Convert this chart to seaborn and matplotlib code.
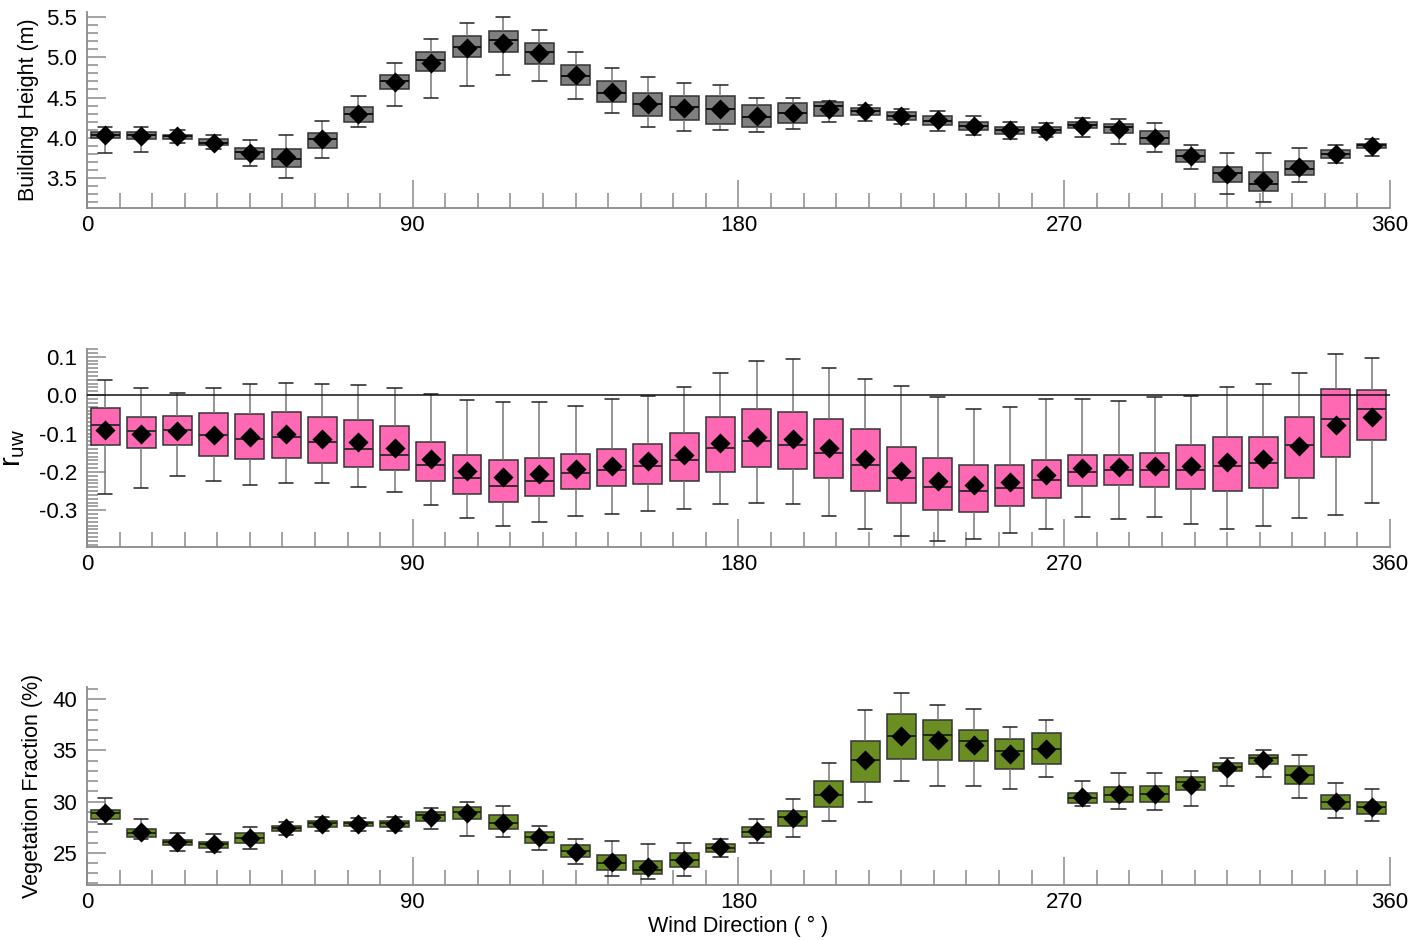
import numpy as np
import pandas as pd
import matplotlib
matplotlib.use("Agg")
import matplotlib.pyplot as plt
import seaborn as sns
from matplotlib.ticker import MultipleLocator, FormatStrFormatter

# Wind-direction bins (bin centres, degrees)
directions = list(range(5, 360, 10))

# Building height (m): whisker low, Q1, median, Q3, whisker high, mean
height_lo = [3.81, 3.82, 3.93, 3.86, 3.65, 3.50, 3.75, 4.13, 4.39, 4.49, 4.64, 4.78, 4.70, 4.48, 4.31, 4.14, 4.08, 4.10,
             4.07, 4.11, 4.20, 4.21, 4.17, 4.09, 4.04, 3.99, 4.01, 4.01, 3.92, 3.83, 3.62, 3.31, 3.20, 3.45, 3.69, 3.78]
height_q1 = [4.00, 3.99, 3.99, 3.91, 3.74, 3.64, 3.88, 4.20, 4.61, 4.83, 5.00, 5.06, 4.91, 4.65, 4.44, 4.27, 4.22, 4.17,
             4.13, 4.19, 4.27, 4.28, 4.22, 4.16, 4.10, 4.05, 4.06, 4.12, 4.06, 3.92, 3.70, 3.45, 3.34, 3.54, 3.75, 3.88]
height_med = [4.04, 4.04, 4.02, 3.94, 3.82, 3.74, 3.99, 4.29, 4.71, 4.97, 5.13, 5.21, 5.06, 4.77, 4.56, 4.42, 4.38, 4.36,
              4.26, 4.31, 4.39, 4.33, 4.27, 4.21, 4.15, 4.10, 4.10, 4.16, 4.13, 4.00, 3.78, 3.56, 3.43, 3.62, 3.80, 3.91]
height_q3 = [4.07, 4.07, 4.04, 3.98, 3.87, 3.86, 4.06, 4.38, 4.78, 5.06, 5.26, 5.32, 5.18, 4.90, 4.71, 4.56, 4.52, 4.52,
             4.41, 4.43, 4.44, 4.37, 4.32, 4.27, 4.20, 4.14, 4.13, 4.20, 4.17, 4.08, 3.85, 3.64, 3.58, 3.71, 3.85, 3.92]
height_hi = [4.14, 4.13, 4.10, 4.03, 3.97, 4.04, 4.21, 4.52, 4.93, 5.22, 5.43, 5.50, 5.34, 5.07, 4.86, 4.75, 4.68, 4.66,
             4.50, 4.50, 4.46, 4.41, 4.36, 4.33, 4.27, 4.20, 4.18, 4.25, 4.23, 4.18, 3.91, 3.81, 3.81, 3.88, 3.91, 3.98]
height_mean = [4.03, 4.02, 4.02, 3.94, 3.81, 3.76, 3.98, 4.30, 4.69, 4.93, 5.11, 5.18, 5.05, 4.78, 4.57, 4.42, 4.37, 4.36,
               4.27, 4.31, 4.36, 4.33, 4.27, 4.22, 4.15, 4.10, 4.09, 4.15, 4.11, 4.00, 3.77, 3.55, 3.47, 3.64, 3.80, 3.90]

# Correlation coefficient r_uw
ruw_lo = [-0.258, -0.242, -0.211, -0.224, -0.233, -0.228, -0.230, -0.239, -0.253, -0.286, -0.319, -0.341,
          -0.331, -0.316, -0.310, -0.303, -0.296, -0.285, -0.280, -0.285, -0.314, -0.350, -0.368, -0.381,
          -0.374, -0.359, -0.348, -0.318, -0.322, -0.317, -0.337, -0.350, -0.342, -0.321, -0.312, -0.280]
ruw_q1 = [-0.130, -0.137, -0.131, -0.158, -0.167, -0.164, -0.176, -0.186, -0.196, -0.223, -0.257, -0.278,
          -0.263, -0.244, -0.237, -0.232, -0.223, -0.200, -0.187, -0.192, -0.217, -0.250, -0.280, -0.300,
          -0.304, -0.290, -0.267, -0.236, -0.233, -0.239, -0.245, -0.250, -0.242, -0.217, -0.161, -0.116]
ruw_med = [-0.078, -0.094, -0.091, -0.105, -0.113, -0.109, -0.123, -0.140, -0.157, -0.183, -0.215, -0.236,
           -0.223, -0.204, -0.196, -0.184, -0.170, -0.137, -0.120, -0.129, -0.152, -0.183, -0.217, -0.239,
           -0.249, -0.242, -0.222, -0.199, -0.194, -0.195, -0.194, -0.185, -0.178, -0.129, -0.062, -0.036]
ruw_q3 = [-0.033, -0.057, -0.054, -0.046, -0.048, -0.043, -0.056, -0.064, -0.081, -0.121, -0.156, -0.168,
          -0.165, -0.154, -0.140, -0.127, -0.098, -0.058, -0.035, -0.044, -0.063, -0.089, -0.135, -0.163,
          -0.181, -0.183, -0.169, -0.157, -0.155, -0.150, -0.129, -0.110, -0.108, -0.057, 0.017, 0.013]
ruw_hi = [0.039, 0.019, 0.006, 0.019, 0.028, 0.032, 0.030, 0.027, 0.018, 0.004, -0.013, -0.017,
          -0.017, -0.029, -0.011, -0.002, 0.022, 0.059, 0.088, 0.093, 0.071, 0.042, 0.023, -0.006,
          -0.035, -0.030, -0.011, -0.011, -0.016, -0.006, -0.002, 0.021, 0.030, 0.059, 0.106, 0.096]
ruw_mean = [-0.090, -0.102, -0.094, -0.103, -0.109, -0.102, -0.113, -0.122, -0.137, -0.166, -0.197, -0.213,
            -0.206, -0.192, -0.184, -0.171, -0.155, -0.126, -0.109, -0.114, -0.137, -0.166, -0.198, -0.223,
            -0.235, -0.226, -0.207, -0.189, -0.187, -0.184, -0.185, -0.175, -0.166, -0.133, -0.077, -0.056]

# Vegetation fraction (%)
veg_lo = [27.80, 26.30, 25.20, 25.07, 25.33, 26.70, 27.15, 27.15, 27.12, 27.31, 26.66, 26.50, 25.26, 23.86, 22.73, 22.40,
          22.76, 24.55, 25.91, 26.56, 28.13, 29.92, 32.00, 31.54, 31.51, 31.28, 32.45, 29.56, 29.26, 29.17, 29.62, 31.48,
          32.36, 30.31, 28.39, 28.06]
veg_q1 = [28.26, 26.56, 25.72, 25.43, 25.91, 27.15, 27.54, 27.61, 27.54, 28.13, 28.35, 27.31, 25.91, 24.55, 23.31, 22.89,
          23.57, 25.10, 26.50, 27.61, 29.49, 31.90, 34.21, 34.11, 33.98, 33.23, 33.66, 29.82, 29.98, 29.98, 31.12, 32.97,
          33.72, 31.77, 29.30, 28.78]
veg_med = [28.84, 26.96, 26.01, 25.82, 26.43, 27.44, 27.87, 27.87, 27.87, 28.68, 28.94, 27.93, 26.56, 25.17, 23.96, 23.31,
           24.29, 25.49, 27.05, 28.45, 30.63, 34.05, 36.45, 36.49, 35.90, 34.99, 35.15, 30.40, 30.63, 30.73, 31.87, 33.40,
           34.31, 32.58, 29.92, 29.43]
veg_q3 = [29.23, 27.28, 26.24, 26.08, 26.89, 27.61, 28.06, 28.03, 28.06, 28.94, 29.43, 28.74, 27.02, 25.75, 24.74, 24.16,
          25.00, 25.85, 27.54, 29.13, 32.00, 35.97, 38.60, 38.02, 37.01, 36.16, 36.75, 30.89, 31.44, 31.51, 32.36, 33.79,
          34.57, 33.46, 30.60, 29.98]
veg_hi = [30.31, 28.35, 26.89, 26.83, 27.48, 28.03, 28.45, 28.39, 28.45, 29.33, 29.92, 29.56, 27.61, 26.37, 26.11, 25.82,
          25.98, 26.37, 28.32, 30.21, 33.82, 38.93, 40.65, 39.41, 39.09, 37.30, 38.02, 32.00, 32.75, 32.75, 33.04, 34.31,
          35.00, 34.53, 31.83, 31.25]
veg_mean = [28.84, 27.05, 26.01, 25.82, 26.43, 27.41, 27.80, 27.80, 27.80, 28.45, 28.84, 27.96, 26.50, 25.10, 24.12, 23.57,
            24.29, 25.52, 27.12, 28.42, 30.79, 34.11, 36.45, 36.00, 35.54, 34.70, 35.19, 30.45, 30.73, 30.76, 31.67, 33.30,
            34.05, 32.58, 29.98, 29.49]

sns.set_theme(style="ticks")
plt.rcParams['font.family'] = ['Liberation Sans', 'DejaVu Sans']
plt.rcParams['axes.unicode_minus'] = False
plt.rcParams['mathtext.fontset'] = 'custom'
plt.rcParams['mathtext.rm'] = 'Liberation Sans'

TICK_FONT = ['Liberation Sans Narrow', 'Liberation Sans', 'DejaVu Sans']
AXIS_GREY = '#8a8a8a'


def summary_frame(lo, q1, med, q3, hi):
    """Five summary values per bin; with whis=(0, 100) they become whisker ends, quartiles and median."""
    rows = []
    for d, vals in zip(directions, zip(lo, q1, med, q3, hi)):
        for v in vals:
            rows.append((d, v))
    return pd.DataFrame(rows, columns=['direction', 'value'])


def draw_panel(ax, frame, means, fill, median_color, ylim, major, minor, fmt,
               ylabel, label_x, label_size=15.5):
    sns.boxplot(data=frame, x='direction', y='value', orient='x', native_scale=True,
                whis=(0, 100), width=0.8, color=fill, saturation=1, linecolor='#333333',
                linewidth=1.1, showfliers=False, ax=ax,
                whiskerprops=dict(color='#777777', linewidth=1.1),
                capprops=dict(color='#222222', linewidth=1.1),
                medianprops=dict(color=median_color, linewidth=1.4))
    sns.scatterplot(x=directions, y=means, marker='D', color='black', s=105,
                    linewidth=0, zorder=6, ax=ax, legend=False)

    ax.set_xlim(0, 360)
    ax.set_ylim(*ylim)
    ax.xaxis.set_major_locator(MultipleLocator(90))
    ax.xaxis.set_minor_locator(MultipleLocator(9))
    ax.yaxis.set_major_locator(MultipleLocator(major))
    ax.yaxis.set_minor_locator(MultipleLocator(minor))
    ax.yaxis.set_major_formatter(FormatStrFormatter(fmt))
    ax.xaxis.set_major_formatter(FormatStrFormatter('%d'))

    ax.tick_params(axis='x', which='major', direction='in', length=20, width=1.1,
                   color=AXIS_GREY, labelsize=16, labelcolor='black', pad=5)
    ax.tick_params(axis='x', which='minor', direction='in', length=11, width=1.1, color=AXIS_GREY)
    ax.tick_params(axis='y', which='major', direction='in', length=14, width=1.1,
                   color=AXIS_GREY, labelsize=16, labelcolor='black', pad=7)
    ax.tick_params(axis='y', which='minor', direction='in', length=8, width=1.1, color=AXIS_GREY)
    for lab in ax.get_xticklabels() + ax.get_yticklabels():
        lab.set_family(TICK_FONT)

    for side in ('top', 'right'):
        ax.spines[side].set_visible(False)
    for side in ('left', 'bottom'):
        ax.spines[side].set_color(AXIS_GREY)
        ax.spines[side].set_linewidth(1.3)

    ax.set_xlabel('')
    ax.set_ylabel(ylabel, fontsize=label_size, color='black')
    ax.yaxis.set_label_coords(label_x, 0.5)


fig = plt.figure(figsize=(14.14, 9.40), dpi=100)
ax1 = fig.add_axes([0.0615, 0.7787, 0.9215, 0.2085])
ax2 = fig.add_axes([0.0615, 0.4180, 0.9215, 0.2106])
ax3 = fig.add_axes([0.0615, 0.0585, 0.9215, 0.2106])

draw_panel(ax1, summary_frame(height_lo, height_q1, height_med, height_q3, height_hi), height_mean,
           '#7f7f7f', '#111111', (3.13, 5.56), 0.5, 0.1, '%.1f', 'Building Height (m)', -0.037)

ax2.axhline(0, color='#111111', linewidth=1.1, zorder=5)
draw_panel(ax2, summary_frame(ruw_lo, ruw_q1, ruw_med, ruw_q3, ruw_hi), ruw_mean,
           '#ff69b4', '#3a2a30', (-0.396, 0.12), 0.1, 0.01, '%.1f',
           r'r$_{\mathregular{uw}}$', -0.046, label_size=21)

draw_panel(ax3, summary_frame(veg_lo, veg_q1, veg_med, veg_q3, veg_hi), veg_mean,
           '#6b8e23', '#1a2a05', (21.85, 41.2), 5, 1, '%d', 'Vegetation Fraction (%)', -0.034)
ax3.set_xlabel('Wind Direction ( \u00b0 )', fontsize=15.5, color='black', labelpad=2)

fig.savefig('out.png', dpi=100)
